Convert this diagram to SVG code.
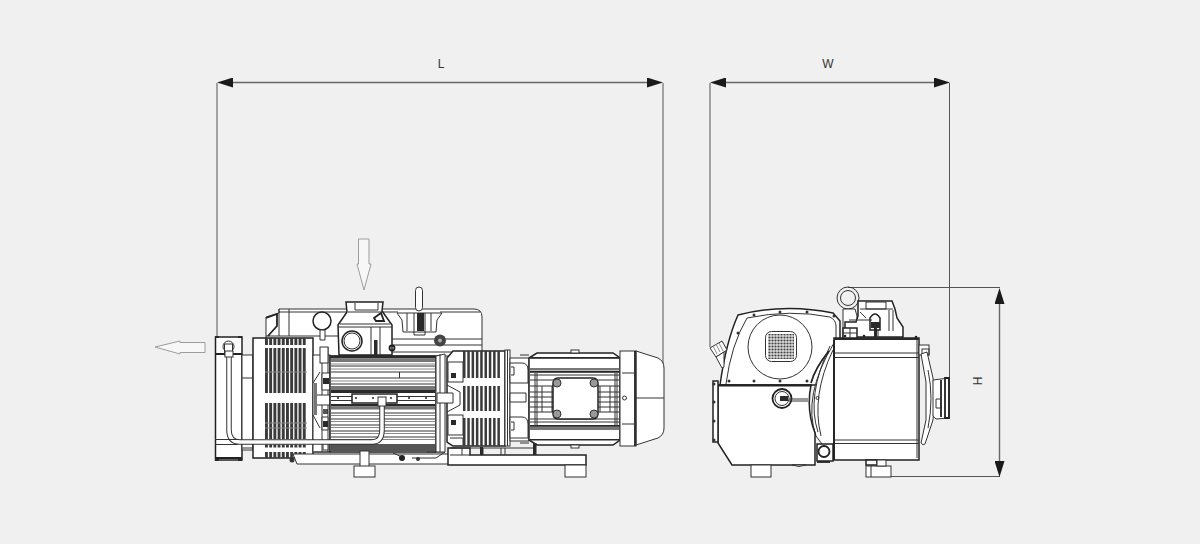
<svg xmlns="http://www.w3.org/2000/svg" width="1200" height="544" viewBox="0 0 1200 544">
<defs>
<marker id="ah" markerUnits="userSpaceOnUse" markerWidth="16" markerHeight="10" refX="0" refY="5" orient="auto-start-reverse"><path d="M0 0L16 5L0 10Z" fill="#1a1a1a"/></marker>
<pattern id="grille" width="3" height="3" patternUnits="userSpaceOnUse"><rect width="3" height="3" fill="#ddd"/><circle cx="1.500" cy="1.500" r="1.100" fill="#444"/></pattern>
<style>
.o{fill:#fff;stroke:#333;stroke-width:1}
.t{fill:#fff;stroke:#222;stroke-width:1.500}
.n{fill:none;stroke:#333;stroke-width:1}
.g{fill:none;stroke:#8a8a8a;stroke-width:1}
.k{fill:none;stroke:#222;stroke-width:1.800}
.b{fill:#2a2a2a;stroke:none}
.d{fill:#777;stroke:none}
.f{fill:none;stroke:#3a3a3a;stroke-dasharray:2.900 1.300}
.r{fill:none;stroke:#3a3a3a;stroke-dasharray:2.500 1.800}
.dim{fill:none;stroke:#666;stroke-width:1.400}
.ext{fill:none;stroke:#555;stroke-width:1}
.flow{fill:#f7f7f7;stroke:#9c9c9c;stroke-width:1}
text{font-family:"Liberation Sans",Arial,sans-serif;font-size:12px;fill:#333;text-anchor:middle}
</style>
</defs>
<rect width="1200" height="544" fill="#f0f0f0"/>

<g id="dimensions">
<path class="ext" d="M217 83V337M663 83V385M710 83V347M949.500 83V380M848 287.500H1000M870 476.500H1000"/>
<path class="dim" d="M233 82.500H647" marker-start="url(#ah)" marker-end="url(#ah)"/>
<path class="dim" d="M726 82.500H934" marker-start="url(#ah)" marker-end="url(#ah)"/>
<path class="dim" d="M999.500 304V461" marker-start="url(#ah)" marker-end="url(#ah)"/>
</g>
<g id="label-L"><text x="441" y="68">L</text></g>
<g id="label-W"><text x="828" y="68">W</text></g>
<g id="label-H"><text transform="translate(982 381) rotate(-90)">H</text></g>

<g id="flow-out"><path class="flow" d="M155 347L180 341V342.500H205V352.500H180V354Z"/></g>
<g id="flow-in"><path class="flow" d="M358.500 239H369V264L371 264L364 290L357 264L358.500 264Z"/></g>

<g id="pump-side">
<!-- upper body -->
<path class="o" d="M279 309H474Q482 309 482 317V356H266V317L279 313Z"/>
<path class="n" d="M279 312H398M440 312H480M279 309V336M289 309V336M266 336H338M392 339H482M392 345H482M392 352H482"/>
<path class="k" d="M266 318L277 314V326L268 336"/>
<!-- gauge -->
<circle class="t" cx="322" cy="321" r="9"/>
<path class="o" d="M320 330H325V340H320Z"/>
<!-- intake housing -->
<path class="t" d="M338 325L347 312L346 302H383L382 311L392 325V355H339Z"/>
<path class="n" d="M355 303V310H378V303M348 312H382M338 327H392M340 324H390"/>
<circle class="t" cx="352" cy="341" r="10"/><circle class="n" cx="352" cy="341" r="8"/>
<rect class="b" x="374" y="340" width="3.500" height="15"/>
<path class="n" d="M371 327V355M380 327V355"/>
<circle class="k" cx="392" cy="348" r="2.500"/>
<path class="k" d="M374 318L381 313L384 321H376Z"/>
<!-- oil fill handle -->
<rect class="o" x="415.500" y="287" width="7" height="24" rx="3.500"/>
<path class="o" d="M397 313H442L437 320L436 332H403L402 320Z"/>
<path class="n" d="M407 313V331M431 313V331M414 313V335H425V313"/>
<rect class="b" x="417" y="313" width="7" height="18"/>
<circle cx="440" cy="340.500" r="6" fill="#444"/><circle cx="440" cy="340.500" r="2" fill="#aaa"/>

<!-- exhaust block -->
<rect class="t" x="215.500" y="337" width="26.500" height="123"/>
<path class="k" d="M216 354H242M216 458H242"/>
<rect class="o" x="242" y="355" width="11" height="95"/>
<path class="n" d="M242 378H253M242 448H253"/>
<circle class="n" cx="228.500" cy="346.500" r="5.500"/><rect class="o" x="224.500" y="344" width="8" height="11"/>
<rect class="b" x="215" y="336" width="4" height="2"/><rect class="b" x="238" y="336" width="4" height="2"/>
<rect class="b" x="215" y="459" width="4" height="2"/><rect class="b" x="238" y="459" width="4" height="2"/>

<!-- left finned flange -->
<rect class="t" x="253" y="338" width="60" height="120"/>
<path class="f" stroke-width="7" d="M265 341.500H307"/>
<path class="f" stroke-width="45" d="M265 370.500H307"/>
<path class="f" stroke-width="36" d="M265 421H307"/>
<path class="f" stroke-width="3" d="M265 446H307"/>
<path class="f" stroke-width="6" d="M265 455H307"/>
<path class="g" d="M265 372H307M265 423H307M265 428H307"/>

<!-- connector column -->
<rect class="o" x="313" y="355" width="17" height="97"/>
<path class="n" d="M322 347V452M328 347V452M313 383L320 372M313 415L320 428"/>
<rect class="o" x="320" y="347" width="8" height="16"/>
<rect class="o" x="315" y="395" width="15" height="10"/>
<path class="o" d="M322 373H330V390H322Z"/>
<path class="o" d="M322 417H328V430H322Z"/>
<rect class="b" x="323" y="378" width="6" height="6"/>
<rect class="b" x="323" y="409" width="5" height="5" opacity=".8"/>
<rect class="b" x="323" y="421" width="5" height="6"/>
<rect class="d" x="314" y="383" width="3" height="32"/>
<rect class="o" x="323" y="443" width="5" height="7"/>

<!-- cylinder body -->
<rect class="t" x="330" y="356" width="106" height="96"/>
<rect class="b" x="330" y="356" width="106" height="2.500"/>
<rect class="d" x="331" y="358.500" width="104" height="3.500"/>
<path class="n" d="M331 366H435M331 372H435M331 378H435M331 384H435M399.500 372V378"/>
<path class="g" d="M331 364H435M331 369H435M331 381H435"/>
<rect class="d" x="331" y="386" width="104" height="4"/>
<rect class="b" x="331" y="390" width="104" height="3"/>
<path class="n" d="M331 396.500H435M331 400.500H435"/>
<rect class="b" x="331" y="404" width="104" height="2.500"/>
<rect class="d" x="331" y="406.500" width="104" height="3"/>
<path class="n" d="M331 413H435M331 419H435M331 425H435M331 431H435M331 437H435"/>
<path class="g" d="M331 415.500H435M331 421.500H435M331 427.500H435M331 433.500H435M331 439.500H435"/>
<rect x="331" y="444" width="104" height="7" fill="#555"/>
<rect class="t" x="352" y="394" width="45" height="9"/>
<g fill="#222"><circle cx="338" cy="398" r="1"/><circle cx="356" cy="398" r="1"/><circle cx="373" cy="398" r="1"/><circle cx="391" cy="398" r="1"/><circle cx="409" cy="398" r="1"/><circle cx="426" cy="398" r="1"/></g>

<!-- pipe -->
<path d="M229 354V430Q229 442 240 442H372Q382 442 382 430V404" fill="none" stroke="#333" stroke-width="5.500"/>
<path d="M229 354V430Q229 442 240 442H372Q382 442 382 430V404" fill="none" stroke="#fff" stroke-width="3.500"/>
<path d="M215 439.500H238M215 444.500H238" class="n"/>
<rect class="o" x="378" y="397" width="8" height="9"/>
<rect class="o" x="225" y="351" width="8" height="6"/>

<!-- rail + left foot -->
<path class="o" d="M293 454H449V464H297Z"/>
<path class="n" d="M314 452H330M393 453L402 457"/>
<rect class="o" x="360" y="451" width="9" height="16"/>
<rect class="o" x="354" y="466" width="21" height="11"/>
<circle cx="292" cy="460" r="2.500" fill="#333"/>
<circle cx="402" cy="458" r="3" fill="#222"/>
<circle cx="418" cy="459" r="2" fill="#333"/>
<path class="n" d="M427 452H445L436 458H412"/>

<!-- right connector -->
<path class="o" d="M436 356L445 354V452H436Z"/>
<path class="n" d="M440 354V452"/>

<!-- right finned flange -->
<path class="t" d="M453 351H505V446H453L447 442V358Z"/>
<rect class="o" x="448" y="362" width="15" height="20"/>
<rect class="o" x="448" y="415" width="15" height="20"/>
<path class="o" d="M437 393H453V403H437Z"/>
<path class="n" d="M447 385L460 392V405L447 412M450 438H463V446"/>
<rect class="b" x="451" y="373" width="5" height="5"/><rect class="b" x="451" y="420" width="5" height="5"/>
<path class="r" stroke-width="27" d="M463 364.500H501"/>
<path class="r" stroke-width="25" d="M463 398.500H501"/>
<path class="r" stroke-width="28" d="M463 432H501"/>
<rect class="o" x="505" y="350" width="5" height="96"/>
<path class="n" d="M507.500 350V446"/>
<path class="o" d="M510 358H529V441H510Z"/>
<path class="n" d="M520 355H529M520 443H529"/>
<path class="o" d="M510 363H522Q528 363 528 370V383H510Z"/>
<path class="o" d="M510 417H522Q528 417 528 424V438H510Z"/>
<path class="o" d="M510 393H526V402H510Z"/>
<path class="n" d="M511 367H514V375H511M511 422H514V430H511"/>

<!-- motor -->
<path class="t" d="M537 353H613L620 358V440L613 445H537L529 440V358Z"/>
<rect class="o" x="571" y="350" width="8" height="3"/>
<rect class="o" x="571" y="445" width="8" height="3"/>
<rect class="b" x="530" y="357" width="90" height="1.800"/>
<rect class="d" x="530" y="368" width="90" height="2.500"/>
<rect class="b" x="530" y="371" width="90" height="1.800"/>
<rect class="b" x="530" y="425" width="90" height="1.800"/>
<rect class="d" x="530" y="427" width="90" height="3"/>
<rect class="b" x="530" y="439" width="90" height="1.500"/>
<path class="n" d="M530 375H620M530 380H620M530 419H620M530 422H620M530 386H620M530 392H620M530 397H620M530 402H620M530 407H620M530 412H620M535 373V425M537 373V425M615 373V425M617 373V425M542 386V412M552 386V412M600 386V412M610 386V412"/>
<path class="t" stroke-width="1.800" d="M558 378H593Q598 378 598 384V413Q598 419 593 419H558Q553 419 553 413V384Q553 378 558 378Z"/>
<g fill="#999" stroke="#333"><circle cx="557" cy="383" r="4"/><circle cx="594" cy="383" r="4"/><circle cx="557" cy="414" r="4"/><circle cx="594" cy="414" r="4"/></g>
<!-- fan cover -->
<path class="o" d="M636 351L658 358Q664 361 664 368V428Q664 435 658 438L636 445Z"/>
<path class="n" d="M636 398H664"/>
<rect class="o" x="620" y="351" width="16" height="95"/>
<path class="n" d="M622 373H634M622 424H634"/><path class="k" d="M635 351V446"/>
<circle class="n" cx="624.500" cy="398" r="2"/>

<!-- base -->
<path class="t" d="M448 448V465H560L565 465H586V455H470V448Z"/>
<path class="n" d="M450 455H470M450 448H535V455M483 448V455M501 448V455M505 448V455M462 448V455"/>
<rect class="b" x="533" y="443" width="3.500" height="12"/>
<rect class="b" x="480" y="447" width="3" height="8"/>
<rect class="o" x="565" y="465" width="21" height="12"/>
</g>

<g id="pump-end">
<!-- upper cover -->
<path class="t" d="M720 385Q726 342 738 315Q785 303 833 313L840 321V385Z"/>
<path class="n" d="M726 384Q731 345 747 318Q790 309 830 317Q836 320 836 326V385"/>
<circle class="o" cx="780" cy="347" r="32"/>
<rect class="o" x="765.500" y="331.500" width="31" height="30" rx="6"/>
<rect x="768" y="334" width="26" height="25" fill="url(#grille)"/>
<g fill="#333"><circle cx="754" cy="315" r="1.500"/><circle cx="780" cy="312" r="1.500"/><circle cx="807" cy="312" r="1.500"/><circle cx="834" cy="316" r="1.500"/><circle cx="738" cy="333" r="1.500"/><circle cx="729" cy="381" r="1.500"/><circle cx="754" cy="381" r="1.500"/><circle cx="780" cy="381" r="1.500"/><circle cx="807" cy="381" r="1.500"/></g>
<path class="o" d="M710 348L722 341L727 350L716 357Z"/>
<path class="o" d="M716 357L724 352L724 367L722 368Z"/>
<path class="g" d="M713 346L717 354M716 344L720 352M719 343L723 351"/>
<!-- housing curve -->
<path class="o" d="M834 343Q802 396 816 436L834 460Z"/>
<path class="n" d="M830 346Q806 396 818 432M833 350Q811 396 821 436"/>
<path class="k" d="M829 351Q815 368 811 383"/>
<circle class="n" cx="817.500" cy="398" r="1.500"/>
<!-- tank -->
<path class="t" d="M718 385H811Q806 410 815 433V465H732L718 443Z"/>
<path class="k" d="M718 385.500H811"/>
<rect class="t" x="713" y="381" width="5" height="61"/>
<g fill="#333"><circle cx="714" cy="384" r="1.500"/><circle cx="714" cy="402" r="1.500"/><circle cx="714" cy="421" r="1.500"/><circle cx="714" cy="440" r="1.500"/></g>
<circle class="k" cx="782" cy="398.500" r="9.500" fill="#fff"/><circle class="n" cx="782" cy="398.500" r="7"/>
<rect class="b" x="780" y="396" width="8" height="5"/>
<path class="n" d="M789 399H808M789 401H808"/>
<!-- corner fitting -->
<rect class="t" x="817" y="444" width="16" height="17"/>
<circle class="k" cx="824" cy="451.500" r="5.500"/>
<path class="k" d="M817 462H830"/>
<!-- main box -->
<rect class="t" x="834" y="338" width="85" height="122"/>
<rect class="b" x="834" y="338" width="85" height="2"/>
<path class="n" d="M834 353H919M834 357.500H919M834 440H919M834 443.500H919"/>
<path class="k" d="M834 340V460"/>
<path class="n" d="M917 340V458"/>
<rect class="o" x="919" y="345" width="10" height="10"/>
<rect class="n" x="922" y="349" width="7" height="6"/>
<!-- right side -->
<path class="o" d="M921 354L927 352L933 378Q936 398 933 420L925 444Q923 446 921 443L926 420V382Z"/>
<path class="n" d="M928 370Q934 398 928 428"/>
<path class="o" d="M933 380L949 378V418L936 419L933 416Z"/>
<path class="k" d="M945 378H949V418H945ZM941 380V417"/>
<path class="n" d="M936 399H941V408H936Z"/>
<!-- feet -->
<rect class="o" x="751" y="465" width="20" height="12"/>
<path class="o" d="M792 465Q799 468 806 465Z"/>
<rect class="o" x="866" y="466" width="25" height="11"/>
<path class="n" d="M871 466V477"/>
<rect class="t" x="866" y="460" width="11" height="5"/>
<rect class="o" x="877" y="460" width="9" height="6"/>
<!-- eye bolt and top fittings -->
<circle class="n" cx="848" cy="298" r="11" stroke-width="1.300"/><circle class="n" cx="848" cy="298" r="7.500"/>
<path class="o" d="M843 309H855L857 316V337H843Z"/>
<path class="t" d="M858 301H892L895 309L897 318L903 327V337H845V322H856L858 316Z"/>
<path class="n" d="M866 302H886V309H866ZM860 309H893M878 322V337M889 310V331M893 310V331M860 312L866 318"/>
<rect class="t" x="843" y="328" width="14" height="10"/>
<path class="n" d="M850 328V338M843 333H857"/>
<path class="t" d="M870 330V318Q875 310 880 318V330Z"/>
<rect class="b" x="871" y="322" width="9" height="6"/>
<rect class="b" x="874" y="328" width="3" height="9"/>
<path class="n" d="M849 320H872"/>
<g fill="#222"><circle cx="845" cy="336" r="1.300"/><circle cx="864" cy="336" r="1.300"/><circle cx="916" cy="337" r="1.300"/></g>
</g>
</svg>
